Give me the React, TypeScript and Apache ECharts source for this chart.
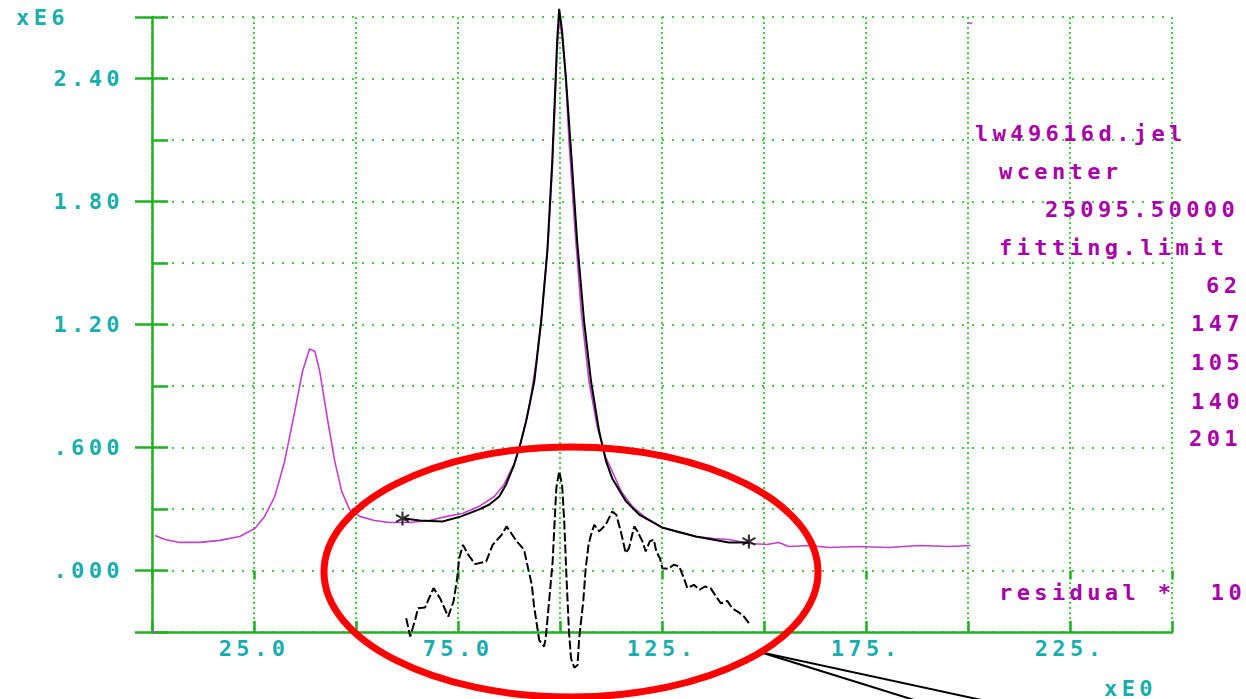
import React, { useEffect, useRef } from "react";
import * as echarts from "echarts";

// ---- data (x in E0, y in E6) ----
const spectrumX = [0.7, 3.2, 6.8, 11.7, 16.6, 21.5, 25.2, 27.6, 30.1, 32.5, 35.0, 36.9, 38.6, 39.9, 41.1, 43.1, 44.8, 46.5, 48.4, 50.9, 54.5, 58.2, 63.1, 68.0, 72.2, 76.1, 80.2, 83.9, 86.3, 88.8, 90.5, 92.5, 94.2, 95.6, 97.1, 98.1, 98.8, 99.3, 99.8, 100.5, 101.3, 102.2, 103.7, 105.2, 107.1, 109.1, 111.1, 112.8, 115.0, 117.7, 120.6, 125.0, 129.2, 133.3, 137.7, 141.4, 146.3, 150.7, 153.6, 156.1, 161.0, 165.9, 173.2, 180.5, 187.9, 195.2, 200.6];
const spectrumY = [0.171, 0.151, 0.137, 0.137, 0.147, 0.166, 0.205, 0.264, 0.361, 0.532, 0.777, 0.972, 1.080, 1.070, 0.972, 0.728, 0.532, 0.386, 0.298, 0.264, 0.244, 0.234, 0.234, 0.244, 0.264, 0.278, 0.313, 0.361, 0.420, 0.523, 0.630, 0.801, 1.021, 1.265, 1.607, 1.949, 2.291, 2.535, 2.691, 2.608, 2.438, 2.096, 1.656, 1.265, 0.923, 0.703, 0.557, 0.484, 0.386, 0.313, 0.264, 0.210, 0.186, 0.166, 0.156, 0.151, 0.132, 0.127, 0.137, 0.117, 0.122, 0.112, 0.117, 0.112, 0.122, 0.117, 0.122];

const fitX = [61.9, 65.6, 71.2, 75.8, 80.2, 82.7, 85.1, 86.8, 88.8, 90.0, 91.7, 93.7, 95.4, 96.9, 98.1, 98.8, 99.3, 99.8, 100.5, 101.5, 102.7, 104.2, 105.9, 107.6, 109.6, 111.3, 112.8, 116.2, 119.4, 125.0, 133.3, 141.4, 146.3];
const fitY = [0.254, 0.244, 0.239, 0.264, 0.298, 0.322, 0.361, 0.420, 0.518, 0.596, 0.728, 0.923, 1.216, 1.558, 1.998, 2.340, 2.584, 2.740, 2.633, 2.389, 2.047, 1.607, 1.216, 0.923, 0.679, 0.532, 0.449, 0.337, 0.273, 0.210, 0.166, 0.137, 0.137];

const residualX = [62.3, 63.3, 64.6, 65.2, 66.9, 69.0, 70.6, 72.6, 73.9, 74.8, 75.3, 76.2, 77.5, 79.2, 81.9, 83.5, 85.7, 86.9, 89.4, 91.2, 91.8, 93.1, 93.6, 94.9, 96.1, 96.5, 97.4, 98.2, 98.6, 99.1, 99.8, 100.5, 101.0, 101.6, 102.2, 102.7, 103.5, 104.3, 104.7, 105.7, 106.3, 107.0, 107.6, 108.4, 109.6, 111.2, 112.8, 113.8, 114.9, 116.1, 116.9, 118.2, 119.0, 120.2, 121.0, 122.0, 123.0, 123.6, 124.5, 125.1, 126.5, 127.9, 129.2, 130.4, 131.2, 132.8, 134.2, 135.5, 136.9, 138.1, 139.4, 141.0, 142.2, 143.8, 145.1, 146.5];
const residualY = [-0.233, -0.322, -0.233, -0.184, -0.181, -0.086, -0.135, -0.225, -0.151, -0.038, 0.060, 0.125, 0.077, 0.031, 0.044, 0.125, 0.174, 0.215, 0.142, 0.101, 0.044, -0.070, -0.168, -0.339, -0.371, -0.331, -0.135, 0.044, 0.207, 0.402, 0.484, 0.419, 0.255, -0.038, -0.298, -0.428, -0.474, -0.461, -0.331, -0.151, 0.011, 0.125, 0.174, 0.223, 0.191, 0.223, 0.288, 0.272, 0.191, 0.085, 0.109, 0.215, 0.191, 0.142, 0.093, 0.142, 0.150, 0.093, 0.060, 0.011, 0.008, 0.028, 0.020, -0.038, -0.086, -0.070, -0.094, -0.078, -0.086, -0.122, -0.160, -0.148, -0.184, -0.204, -0.225, -0.262];

const limitX = [61.4, 146.3];
const limitY = [0.254, 0.142];

const strayX = [0.7, 200.6];
const strayY = [-0.3, 2.67];

const xLabelValues = [25, 75, 125, 175, 225];
const xLabelTexts = ["25.0", "75.0", "125.", "175.", "225."];
const yLabelValues = [0, 0.6, 1.2, 1.8, 2.4];
const yLabelTexts = [".000", ".600", "1.20", "1.80", "2.40"];

const infoLines = ["lw49616d.jel", "wcenter", "25095.50000", "fitting.limit", "62", "147", "105", "140", "201", "residual *  10"];

// ---- style ----
const GREEN = "#22b022";
const DOT = "#48cc48";
const TEAL = "#19adad";
const MAG_TEXT = "#a800a8";
const MAG_LINE = "#c040cc";
const FONT = '"DejaVu Sans Mono", monospace';
const FS = 22;

const zip = (xs: number[], ys: number[]) => xs.map((x, i) => [x, ys[i]]);
const pick = (vals: number[], texts: string[]) => (v: number) => {
  const i = vals.findIndex((t) => Math.abs(t - v) < 1e-6);
  return i >= 0 ? texts[i] : "";
};

const STAR = "path://M-1,-7L1,-7L1,-1.7L5.6,-4.4L6.6,-2.6L2,0L6.6,2.6L5.6,4.4L1,1.7L1,7L-1,7L-1,1.7L-5.6,4.4L-6.6,2.6L-2,0L-6.6,-2.6L-5.6,-4.4L-1,-1.7Z";

const infoPos = [
  [975, 133], [999, 171], [1045, 209], [999, 247], [1206, 285],
  [1191, 323], [1191, 362], [1191, 401], [1189, 438], [999, 592],
];

export default function App() {
  const ref = useRef<HTMLDivElement>(null);
  useEffect(() => {
    document.body.style.margin = "0";
    const el = ref.current!;
    const chart = echarts.init(el, null, { renderer: "svg" });
    const labelStyle = { color: TEAL, fontFamily: FONT, fontWeight: "bold" as const, fontSize: FS };
    const option: any = {
      animation: false,
      backgroundColor: "#ffffff",
      grid: { left: 152, right: 74, top: 17, bottom: 67, containLabel: false, outerBoundsMode: "none" },
      xAxis: [
        {
          type: "value", min: 0, max: 250, interval: 25, position: "bottom",
          name: "xE0", nameLocation: "end", nameGap: 0,
          nameTextStyle: { ...labelStyle, align: "right", verticalAlign: "top", padding: [45, 15, 0, 0] },
          axisLine: { show: true, onZero: false, lineStyle: { color: GREEN, width: 2.5 } },
          axisTick: { show: true, inside: true, length: 11, lineStyle: { color: GREEN, width: 2.5 } },
          axisLabel: { ...labelStyle, margin: 5, formatter: pick(xLabelValues, xLabelTexts) },
          splitLine: { show: true, lineStyle: { color: DOT, width: 2, type: [2, 3] } },
        },
        {
          type: "value", min: 0, max: 250, interval: 25, position: "bottom",
          axisLine: { show: false },
          axisTick: { show: true, inside: false, length: 9, lineStyle: { color: GREEN, width: 2.5 }, customValues: [0, 25, 75, 125, 175, 225, 250] },
          axisLabel: { show: false },
          splitLine: { show: false },
        },
      ],
      yAxis: [
        {
          type: "value", min: -0.3, max: 2.7, interval: 0.3, position: "left",
          name: "xE6", nameLocation: "end", nameGap: 0,
          nameTextStyle: { ...labelStyle, align: "right", verticalAlign: "middle", padding: [0, 83, 0, 0] },
          axisLine: { show: true, onZero: false, lineStyle: { color: GREEN, width: 2.5 } },
          axisTick: { show: true, inside: true, length: 16, lineStyle: { color: GREEN, width: 2.5 } },
          axisLabel: { ...labelStyle, margin: 28, formatter: pick(yLabelValues, yLabelTexts) },
          splitLine: { show: true, lineStyle: { color: DOT, width: 2, type: [2, 8] } },
        },
        {
          type: "value", min: -0.3, max: 2.7, interval: 0.3, position: "left",
          axisLine: { show: false },
          axisTick: { show: true, inside: false, length: 17, lineStyle: { color: GREEN, width: 2.5 }, customValues: [-0.3, 0, 0.6, 1.2, 1.8, 2.4, 2.7] },
          axisLabel: { show: false },
          splitLine: { show: false },
        },
      ],
      series: [
        {
          type: "line", data: zip(spectrumX, spectrumY), showSymbol: false, clip: false, silent: true,
          lineStyle: { color: MAG_LINE, width: 1.6 }, z: 3,
        },
        {
          type: "line", data: zip(fitX, fitY), showSymbol: false, clip: false, silent: true,
          lineStyle: { color: "#000000", width: 2 }, z: 4,
        },
        {
          type: "line", data: zip(residualX, residualY), showSymbol: false, clip: false, silent: true,
          lineStyle: { color: "#000000", width: 2, type: [9, 3] }, z: 4,
        },
        {
          type: "scatter", data: zip(limitX, limitY), symbol: STAR, symbolSize: 14, silent: true, clip: false,
          itemStyle: { color: "#000000" }, z: 5,
        },
        {
          type: "scatter", data: zip(strayX, strayY), symbol: "rect", symbolSize: [4, 2], silent: true, clip: false,
          itemStyle: { color: MAG_LINE }, z: 5,
        },
      ],
      graphic: [
        ...infoLines.map((t, i) => ({
          type: "text", x: infoPos[i][0], y: infoPos[i][1], z: 50, silent: true,
          style: { text: t, fill: MAG_TEXT, fontFamily: FONT, fontWeight: "bold", fontSize: FS, verticalAlign: "middle", align: "left" },
        })),
        {
          type: "line", z: 60, silent: true,
          shape: { x1: 760, y1: 652, x2: 1000, y2: 704 },
          style: { stroke: "#000000", lineWidth: 2 },
        },
        {
          type: "line", z: 60, silent: true,
          shape: { x1: 760, y1: 652, x2: 927, y2: 704 },
          style: { stroke: "#000000", lineWidth: 2 },
        },
        {
          type: "ellipse", z: 70, silent: true,
          shape: { cx: 571, cy: 572, rx: 247, ry: 125 },
          style: { fill: "none", stroke: "#ff0000", lineWidth: 7 },
        },
      ],
    };
    chart.setOption(option);
    const spacing = () => {
      el.querySelectorAll("text").forEach((t) => t.setAttribute("letter-spacing", "4.4"));
    };
    spacing();
    chart.on("finished", spacing);
    const timer = setTimeout(spacing, 50);
    return () => {
      clearTimeout(timer);
      chart.dispose();
    };
  }, []);
  return <div ref={ref} style={{ width: 1246, height: 699 }} />;
}
